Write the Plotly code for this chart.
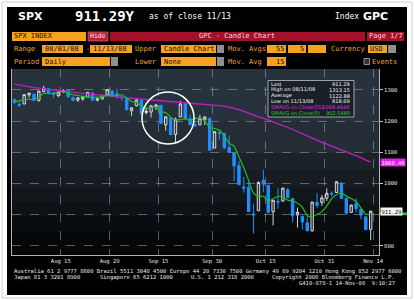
import plotly.graph_objects as go

# ---------------- data ----------------
dates = ["08/01","08/04","08/05","08/06","08/07","08/08","08/11","08/12","08/13","08/14",
         "08/15","08/18","08/19","08/20","08/21","08/22","08/25","08/26","08/27","08/28",
         "08/29","09/02","09/03","09/04","09/05","09/08","09/09","09/10","09/11","09/12",
         "09/15","09/16","09/17","09/18","09/19","09/22","09/23","09/24","09/25","09/26",
         "09/29","09/30","10/01","10/02","10/03","10/06","10/07","10/08","10/09","10/10",
         "10/13","10/14","10/15","10/16","10/17","10/20","10/21","10/22","10/23","10/24",
         "10/27","10/28","10/29","10/30","10/31","11/03","11/04","11/05","11/06","11/07",
         "11/10","11/11","11/12","11/13"]

opens = [1269.42,1253.27,1254.87,1283.99,1286.51,1266.29,1294.42,1304.79,1288.64,1282.11,
         1293.85,1298.14,1276.65,1267.34,1271.07,1277.59,1290.47,1267.03,1271.29,1283.79,
         1296.49,1287.83,1276.61,1271.80,1233.21,1249.50,1267.98,1227.50,1229.04,1245.88,
         1250.92,1188.31,1210.34,1157.08,1213.11,1255.37,1207.61,1188.79,1187.87,1204.47,
         1209.07,1113.78,1164.17,1160.64,1115.16,1097.56,1057.60,988.91,988.42,902.31,
         912.75,1009.97,994.60,909.53,942.29,943.51,980.40,951.67,899.08,895.22,
         874.28,848.92,939.51,939.38,953.11,968.67,971.31,1001.84,952.40,907.44,
         936.75,917.15,893.39,853.13]
highs = [1270.52,1260.49,1284.88,1291.67,1286.51,1297.85,1313.15,1304.79,1294.03,1300.11,
         1302.05,1300.22,1276.65,1276.01,1281.40,1293.09,1290.47,1275.65,1285.05,1300.68,
         1297.59,1303.04,1280.60,1271.80,1244.94,1274.42,1268.66,1243.90,1249.98,1255.09,
         1250.92,1214.84,1210.34,1211.14,1265.12,1255.37,1219.15,1197.41,1220.03,1215.77,
         1209.07,1168.03,1167.03,1160.64,1153.82,1097.56,1072.91,1021.06,1005.25,936.36,
         1006.93,1044.31,994.60,947.71,984.64,985.40,985.44,951.67,922.83,896.30,
         893.78,940.51,969.97,963.23,984.38,975.57,1007.51,1001.84,952.40,931.46,
         951.95,917.15,893.39,913.01]
lows = [1254.54,1247.45,1254.67,1276.00,1264.29,1262.11,1292.17,1285.64,1274.86,1276.84,
        1290.74,1274.51,1263.11,1261.16,1265.22,1277.59,1264.87,1263.21,1270.03,1283.79,
        1282.74,1272.20,1265.59,1232.83,1217.23,1247.12,1224.51,1221.60,1211.54,1235.50,
        1192.70,1169.28,1155.88,1133.50,1213.11,1205.61,1188.22,1179.79,1187.87,1187.54,
        1106.39,1113.78,1140.77,1111.43,1098.14,1007.97,996.23,970.97,909.19,839.80,
        912.75,972.07,903.99,865.83,918.74,943.51,952.47,875.81,858.44,852.85,
        846.75,845.27,922.26,928.50,944.59,958.82,971.31,949.86,899.73,907.44,
        907.47,884.90,850.48,818.69]
closes = [1260.31,1249.01,1284.88,1289.19,1266.07,1296.32,1305.32,1289.59,1285.83,1292.93,
          1298.20,1278.60,1266.69,1274.54,1277.72,1292.20,1266.84,1271.51,1281.66,1300.68,
          1282.83,1277.58,1274.98,1236.83,1242.31,1267.79,1224.51,1232.04,1249.05,1251.70,
          1192.70,1213.60,1156.39,1206.51,1255.08,1207.09,1188.22,1185.87,1209.18,1213.27,
          1106.39,1166.36,1161.06,1114.28,1099.23,1056.89,996.23,984.94,909.92,899.22,
          1003.35,998.01,907.84,946.43,940.55,985.40,955.05,896.78,908.11,876.77,
          848.92,940.51,930.09,954.09,968.75,966.30,1005.75,952.77,904.88,930.99,
          919.21,898.95,852.30,911.29]

sma55 = [1318.41,1315.24,1312.68,1310.18,1307.50,1305.79,1304.17,1302.60,1300.79,1299.01,
         1297.19,1294.98,1292.81,1290.94,1289.13,1287.10,1285.39,1283.75,1282.35,1281.72,
         1280.68,1279.18,1277.64,1275.56,1273.83,1272.46,1270.76,1269.20,1268.01,1266.74,
         1265.09,1263.91,1261.67,1260.24,1260.12,1259.11,1257.94,1256.35,1255.70,1254.97,
         1252.55,1251.43,1250.45,1248.06,1245.14,1241.43,1236.64,1231.33,1224.56,1218.13,
         1213.51,1209.21,1202.75,1196.61,1190.66,1185.66,1180.31,1173.26,1166.33,1159.25,
         1151.11,1144.48,1137.94,1131.91,1126.02,1119.98,1115.02,1109.31,1102.59,1096.29,
         1089.51,1082.82,1075.19,1068.4646]
sma5 = [1261.90,1264.83,1269.17,1270.15,1269.89,1277.09,1288.36,1289.30,1288.63,1294.00,
        1294.37,1289.03,1284.45,1282.19,1279.15,1277.95,1275.60,1276.56,1277.99,1282.58,
        1280.70,1282.85,1283.55,1274.58,1262.91,1259.90,1249.28,1240.70,1243.14,1245.02,
        1230.00,1227.82,1212.69,1204.18,1204.86,1207.73,1202.66,1208.55,1209.09,1200.73,
        1180.59,1176.21,1171.25,1152.27,1129.46,1119.56,1085.54,1050.31,1009.44,969.44,
        958.73,959.09,943.67,950.97,959.24,955.65,947.05,944.84,937.18,924.42,
        897.13,894.22,900.88,910.08,928.47,951.95,965.00,969.53,959.69,952.14,
        942.72,921.36,901.27,902.548]

tick_dates = ["08/15","08/29","09/15","09/30","10/15","10/31","11/14"]
tick_labels = ["Aug 15","Aug 29","Sep 15","Sep 30","Oct 15","Oct 31","Nov 14"]
price_ticks = [800, 900, 1000, 1100, 1200, 1300]
# the 900 label is hidden behind the "Last" price tag in the reference
price_labels = ["800", "", "1000", "1100", "1200", "1300"]

# ---------------- geometry helpers (pixels -> paper) ----------------
W, H = 414, 300
PL, PR, PT, PB = 12, 379, 69, 255
def px(x): return (x - PL) / (PR - PL)
def py(y): return (PB - y) / (PB - PT)

MONO = "DejaVu Sans Mono"
ORANGE = "#f5a21f"
OTXT = "#f0a030"
RED = "#a3122a"

shapes = []
annos = []

def rect(x0, y0, x1, y1, fill, line=None, lw=0, layer="above"):
    shapes.append(dict(type="rect", xref="paper", yref="paper",
                       x0=px(x0), x1=px(x1), y0=py(y1), y1=py(y0),
                       fillcolor=fill, layer=layer,
                       line=dict(color=line or fill, width=lw)))

def txt(x, y, s, size=7, color="white", anchor="left", family=MONO, bold=False):
    if bold:
        s = "<b>" + s + "</b>"
    annos.append(dict(x=px(x), y=py(y), xref="paper", yref="paper", text=s,
                      showarrow=False, xanchor=anchor, yanchor="middle", borderpad=0,
                      font=dict(family=family, size=size, color=color)))

# outer frame and black terminal background
rect(2, 2, 412, 298, "white", line="#cfcfcf", lw=1, layer="below")
rect(7, 7, 407, 295, "black", layer="below")
# plot background bands (dark gradient)
bands = [(69, 121, "#28323c"), (121, 153, "#242d36"), (153, 170, "#1b2229"),
         (170, 188, "#161c22"), (188, 202, "#12171c"), (202, 216, "#0e1216"),
         (216, 232, "#0a0d10"), (232, 255, "#050709")]
for (a, b, c) in bands:
    rect(PL, a, PR, b, c, layer="below")

# ---------------- header ----------------
txt(17, 16, "SPX", 11, "white", family="DejaVu Sans", bold=True)
txt(74, 16, "911.29Y", 14, "white", family=MONO, bold=True)
txt(148, 16.5, "as of close 11/13", 8, "white")
txt(334, 16.5, "Index", 8, "white")
txt(362, 16, "GPC", 11, "white", family="DejaVu Sans", bold=True)

# row 1
rect(12, 32, 86, 41, ORANGE)
txt(13, 36.5, "SPX INDEX", 7, "#1a1000")
rect(88, 32, 108, 41, "#b5203a", line="#e07080", lw=0.6)
txt(98, 36.5, "Hide", 6.5, "#ffe8ea", anchor="center")
rect(110, 32, 365, 41, RED)
txt(237, 36.5, "GPC - Candle Chart", 7, "#f4d8dc", anchor="center")
rect(367, 32, 404, 41, RED)
txt(385.5, 36.5, "Page 1/7", 7, "#f4d8dc", anchor="center")

# row 2
r2 = 49
txt(13, r2, "Range", 7, OTXT)
rect(42, 45, 83, 53, ORANGE); txt(44, r2, "08/01/08", 7, "#1a1000")
txt(85, r2, "-", 7, OTXT)
rect(90, 45, 132, 53, ORANGE); txt(92, r2, "11/13/08", 7, "#1a1000")
txt(134, r2, "Upper", 7, OTXT)
rect(161, 45, 216, 53, ORANGE); txt(163, r2, "Candle Chart", 7, "#1a1000")
rect(217, 45, 224, 53, "#8f8f8f")
txt(227, r2, "Mov. Avgs", 7, OTXT)
rect(267, 45, 286, 53, ORANGE); txt(285, r2, "55", 7, "#1a1000", anchor="right")
rect(288, 45, 306, 53, ORANGE); txt(305, r2, "5", 7, "#1a1000", anchor="right")
rect(308, 45, 326, 53, ORANGE)
txt(330, r2, "Currency", 7, OTXT)
rect(368, 45, 387, 53, ORANGE); txt(369, r2, "USD", 7, "#1a1000")
rect(388, 45, 396, 53, "#8f8f8f")

# row 3
r3 = 61.5
txt(13, r3, "Period", 7, OTXT)
rect(42, 57, 110, 66, ORANGE); txt(44, r3, "Daily", 7, "#1a1000")
rect(111, 57, 118, 66, "#8f8f8f")
txt(134, r3, "Lower", 7, OTXT)
rect(161, 57, 216, 66, ORANGE); txt(163, r3, "None", 7, "#1a1000")
rect(217, 57, 224, 66, "#8f8f8f")
txt(227, r3, "Mov. Avg", 7, OTXT)
rect(267, 57, 286, 66, ORANGE); txt(285, r3, "15", 7, "#1a1000", anchor="right")
rect(364, 58.5, 369.5, 64.5, "#303030", line="#b0b0b0", lw=0.8)
txt(371, r3, "Events", 7, OTXT)

# ---------------- footer ----------------
FC = "#e6e6e6"
txt(13, 271, "Australia 61 2 9777 8600 Brazil 5511 3048 4500 Europe 44 20 7330 7500 Germany 49 69 9204 1210 Hong Kong 852 2977 6000", 5.5, FC)
txt(13, 277, "Japan 81 3 3201 8900", 5.5, FC)
txt(99, 277, "Singapore 65 6212 1000", 5.5, FC)
txt(190, 277, "U.S. 1 212 318 2000", 5.5, FC)
txt(396, 277, "Copyright 2008 Bloomberg Finance L.P.", 5.5, FC, anchor="right")
txt(396, 282.5, "G410-878-1 14-Nov-08  9:10:27", 5.5, FC, anchor="right")

# ---------------- info box ----------------
rect(268, 80.5, 354, 117, "#1a2027", line="#9aa2aa", lw=1)
hi_i = max(range(len(highs)), key=lambda i: highs[i])
lo_i = min(range(len(lows)), key=lambda i: lows[i])
avg = sum(closes) / len(closes)
info = [("Last", f"{closes[-1]:.2f}", "#f0f0f0"),
        (f"High on {dates[hi_i]}/08", f"{highs[hi_i]:.2f}", "#f0f0f0"),
        ("Average", f"{avg:.2f}", "#f0f0f0"),
        (f"Low on {dates[lo_i]}/08", f"{lows[lo_i]:.2f}", "#f0f0f0"),
        ("SMAVG on Close(55)", f"{sma55[-1]:.4f}", "#e020e0"),
        ("SMAVG on Close(5)", f"{sma5[-1]:.4f}", "#22d022")]
for k, (a, b, c) in enumerate(info):
    yy = 84 + k * 5.8
    txt(270, yy, a, 5.1, c, family="DejaVu Sans")
    txt(351, yy, b, 5.1, c, anchor="right", family="DejaVu Sans")

# highlight circle
shapes.append(dict(type="circle", xref="paper", yref="paper",
                   x0=px(142), x1=px(194), y0=py(144), y1=py(92),
                   line=dict(color="white", width=1.5), layer="above"))

# right-side value tags
# green SMA(5) tag sits mostly hidden beneath the white "Last" tag
shapes.append(dict(type="rect", xref="paper", yref="y",
                   x0=px(380), x1=px(407), y0=sma5[-1] - 4, y1=sma5[-1] + 5,
                   fillcolor="#1fc41f", line=dict(width=0), layer="above"))
def tag(val, s, bg, fg):
    annos.append(dict(x=px(380), y=val, xref="paper", yref="y", text=s,
                      showarrow=False, xanchor="left", yanchor="middle",
                      bgcolor=bg, borderpad=0.5,
                      font=dict(family=MONO, size=5.5, color=fg)))
tag(sma55[-1], f"{sma55[-1]:.2f}", "#e81ee8", "white")
tag(closes[-1], f"{closes[-1]:.2f}", "#f4f4f4", "#101010")

# ---------------- traces ----------------
xi = list(range(len(dates)))
fig = go.Figure()
fig.add_trace(go.Candlestick(
    x=xi, open=opens, high=highs, low=lows, close=closes,
    increasing=dict(line=dict(color="#d6d6d6", width=1), fillcolor="rgba(60,70,80,0.6)"),
    decreasing=dict(line=dict(color="#1e90ff", width=1), fillcolor="#1e90ff"),
    whiskerwidth=0, showlegend=False, hoverinfo="skip"))
fig.add_trace(go.Scatter(x=xi, y=sma55, mode="lines",
                         line=dict(color="#c020c0", width=1.3), showlegend=False))
fig.add_trace(go.Scatter(x=xi, y=sma5, mode="lines",
                         line=dict(color="#1fbf1f", width=1.2, shape="spline", smoothing=0.6),
                         showlegend=False))

tick_pos = [(dates.index(d) if d in dates else len(dates)) - 0.5 for d in tick_dates]

GRID = "rgba(165,175,185,0.5)"
fig.update_layout(
    width=W, height=H,
    margin=dict(l=PL, r=W - PR, t=PT, b=H - PB, pad=0),
    paper_bgcolor="white", plot_bgcolor="rgba(0,0,0,0)",
    shapes=shapes, annotations=annos, showlegend=False,
    xaxis=dict(range=[-0.5, 74.7], tickvals=tick_pos, ticktext=tick_labels,
               showgrid=True, gridcolor=GRID, griddash="dash", gridwidth=1,
               zeroline=False, showline=True, linecolor="#b4b4b4", linewidth=1,
               ticks="", tickfont=dict(family=MONO, size=5.5, color="#e6e6e6"),
               rangeslider=dict(visible=False), fixedrange=True),
    yaxis=dict(range=[771, 1367], side="right", tickvals=price_ticks, ticktext=price_labels,
               showgrid=True, gridcolor=GRID, griddash="dash", gridwidth=1,
               zeroline=False, showline=True, mirror=True, linecolor="#b4b4b4", linewidth=1,
               ticks="outside", ticklen=3, tickcolor="#c8c8c8",
               tickfont=dict(family=MONO, size=5.5, color="#e6e6e6"), fixedrange=True),
)

fig.write_html("out.html")
